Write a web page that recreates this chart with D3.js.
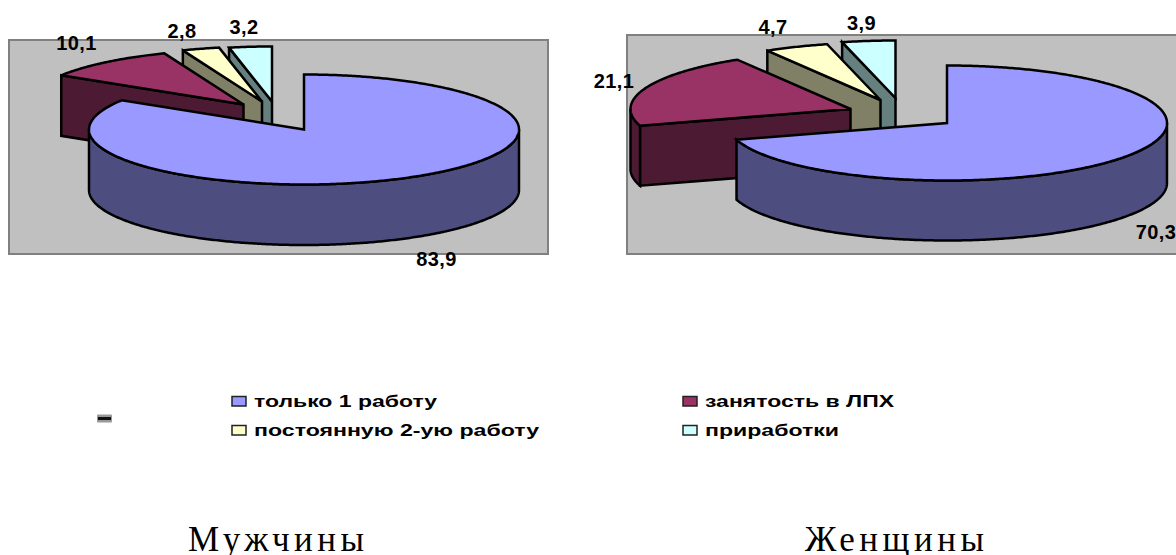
<!DOCTYPE html>
<html>
<head>
<meta charset="utf-8">
<script src="https://cdn.jsdelivr.net/npm/d3@7"></script>
<style>
  html, body { margin: 0; padding: 0; background: #fff; }
  svg { display: block; }
  text { font-family: "Liberation Sans", Arial, sans-serif; }
</style>
</head>
<body>
<div id="vis"></div>
<script>
'use strict';

// Data
const categories = ['только 1 работу', 'занятость в ЛПХ', 'постоянную 2-ую работу', 'приработки'];
const menValues = [83.9, 10.1, 2.8, 3.2];
const womenValues = [70.3, 21.1, 4.7, 3.9];
const panelTitles = ['Мужчины', 'Женщины'];

// Top and side colours of each slice
const topColors = ['#9999ff', '#993366', '#ffffcc', '#ccffff'];
const sideColors = ['#4d4d80', '#4d1a33', '#808066', '#668080'];

const width = 1176;
const height = 555;

// Where each pie sits. explode is how far each slice is pulled from the centre.
const panels = [
  {
    values: menValues, title: panelTitles[0],
    box: [9, 40, 548, 254], cx: 304, cy: 129.5, rx: 215, ry: 55, depth: 60.5,
    explode: [[0, 0], [-60.5, -25], [-42, -28], [-32, -28]],
    labels: [[436.5, 258.5], [76.5, 43], [182, 31], [244, 27]],
    titleX: 188, titleLength: 176
  },
  {
    values: womenValues, title: panelTitles[1],
    box: [627, 35, 1185, 254], cx: 947, cy: 123, rx: 220, ry: 57.5, depth: 60,
    explode: [[0, 0], [-96.5, -14], [-66.5, -23], [-51.5, -25]],
    labels: [[1156, 232], [614, 80.5], [773, 27], [861.5, 23]],
    titleX: 805, titleLength: 179
  }
];

const svg = d3.select('#vis')
  .append('svg')
  .attr('width', width)
  .attr('height', height);

const pie = d3.pie().sort(null).value(d => d);
const line = d3.line();

function drawPie(panel) {
  const g = svg.append('g');

  g.append('rect')
    .attr('x', panel.box[0])
    .attr('y', panel.box[1])
    .attr('width', panel.box[2] - panel.box[0])
    .attr('height', panel.box[3] - panel.box[1])
    .attr('fill', '#c0c0c0')
    .attr('stroke', '#808080')
    .attr('stroke-width', 2);

  const slices = pie(panel.values).map((d, i) => {
    const ox = panel.cx + panel.explode[i][0];
    const oy = panel.cy + panel.explode[i][1];
    return {
      i: i,
      start: d.startAngle,
      end: d.endAngle,
      apex: [ox, oy],
      // point on the rim of this slice's ellipse
      rim: a => [ox + panel.rx * Math.sin(a), oy - panel.ry * Math.cos(a)]
    };
  });

  const down = p => [p[0], p[1] + panel.depth];

  function arcPoints(s, a0, a1) {
    const n = Math.max(2, Math.ceil((a1 - a0) / 0.01));
    return d3.range(n + 1).map(k => s.rim(a0 + (a1 - a0) * k / n));
  }

  // Back slices first, the big front slice goes on top
  slices.slice().reverse().forEach(s => {
    const piece = g.append('g')
      .attr('stroke', '#000')
      .attr('stroke-width', 2.5)
      .attr('stroke-linejoin', 'miter')
      .attr('stroke-miterlimit', 3);

    // flat cut face, seen only when it turns to the viewer
    if (s.start > Math.PI) {
      const p = s.rim(s.start);
      piece.append('path')
        .attr('d', line([s.apex, p, down(p), down(s.apex)]) + 'Z')
        .attr('fill', sideColors[s.i]);
    }

    // outer wall, front half only
    const a0 = Math.max(s.start, Math.PI / 2);
    const a1 = Math.min(s.end, Math.PI * 1.5);
    if (a1 > a0) {
      const pts = arcPoints(s, a0, a1);
      piece.append('path')
        .attr('d', line(pts.concat(pts.map(down).reverse())) + 'Z')
        .attr('fill', sideColors[s.i]);
    }

    piece.append('path')
      .attr('d', line([s.apex].concat(arcPoints(s, s.start, s.end))) + 'Z')
      .attr('fill', topColors[s.i]);
  });

  // Value labels
  g.selectAll('text.value')
    .data(panel.values)
    .enter()
    .append('text')
    .attr('class', 'value')
    .attr('x', (d, i) => panel.labels[i][0])
    .attr('y', (d, i) => panel.labels[i][1])
    .attr('dy', '0.35em')
    .attr('text-anchor', 'middle')
    .attr('font-size', 20)
    .attr('letter-spacing', 0.4)
    .attr('font-weight', 'bold')
    .attr('fill', '#000')
    .text(d => String(d).replace('.', ','));

  svg.append('text')
    .attr('x', panel.titleX)
    .attr('y', 551)
    .attr('font-size', 35)
    .attr('textLength', panel.titleLength)
    .attr('lengthAdjust', 'spacing')
    .style('font-family', '"Liberation Serif", serif')
    .attr('fill', '#000')
    .text(panel.title);
}

panels.forEach(drawPie);

// Legend, two columns by two rows
const legendX = d3.scalePoint().domain([0, 1]).range([232, 683]);
const legendY = d3.scalePoint().domain([0, 1]).range([396.5, 425.5]);
const legendWidths = [183, 189, 285, 134];

const legend = svg.selectAll('g.legend')
  .data(categories)
  .enter()
  .append('g')
  .attr('class', 'legend')
  .attr('transform', (d, i) => `translate(${legendX(i % 2)},${legendY(Math.floor(i / 2))})`);

legend.append('rect')
  .attr('width', 14)
  .attr('height', 9.5)
  .attr('fill', (d, i) => topColors[i])
  .attr('stroke', '#222')
  .attr('stroke-width', 1.5);

legend.append('text')
  .attr('x', 22)
  .attr('y', 10)
  .attr('font-size', 16)
  .attr('font-weight', 'bold')
  .attr('textLength', (d, i) => legendWidths[i])
  .attr('lengthAdjust', 'spacingAndGlyphs')
  .text(d => d);

// Little stray mark left of the legend
svg.append('rect')
  .attr('x', 97)
  .attr('y', 414.5)
  .attr('width', 15)
  .attr('height', 8)
  .attr('rx', 1)
  .attr('fill', '#999');
svg.append('rect')
  .attr('x', 98)
  .attr('y', 417)
  .attr('width', 13)
  .attr('height', 3)
  .attr('fill', '#111');
</script>
</body>
</html>
